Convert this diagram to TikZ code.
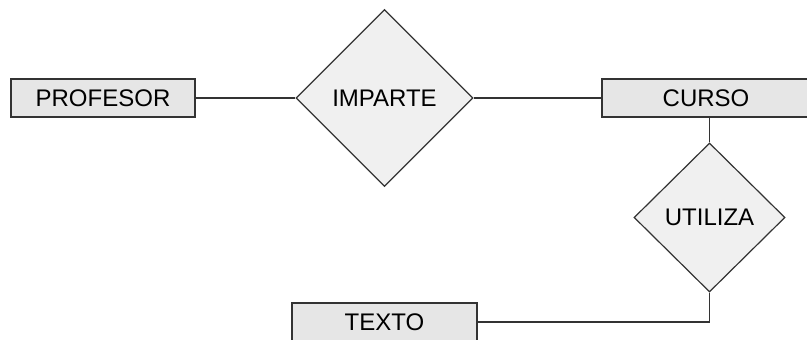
\documentclass[tikz,border=0pt]{standalone}
\usepackage{fontspec}
\setmainfont{Liberation Sans}
\usepackage{xcolor}
\usepackage{tikz}
\usetikzlibrary{shapes.geometric}
\definecolor{linea}{HTML}{333333}
\definecolor{cajagris}{HTML}{E6E6E6}
\definecolor{rombogris}{HTML}{F0F0F0}

\begin{document}
\begin{tikzpicture}[x=0.5pt,y=-0.5pt,font=\fontsize{12}{14}\selectfont,
  entidad/.style={draw=linea,fill=cajagris,line width=0.6pt,minimum height=19pt,inner sep=0pt},
  relacion/.style={diamond,draw=linea,fill=rombogris,line width=0.6pt,inner sep=0pt},
  enlace/.style={draw=linea,line width=0.6pt}]
\useasboundingbox (0,0) rectangle (807,340);
\node[entidad,minimum width=92pt] (profesor) at (103,98) {PROFESOR};
\node[relacion,minimum width=88.5pt,minimum height=88.5pt] (imparte) at (384.5,98) {IMPARTE};
\node[entidad,minimum width=104pt] (curso) at (706,98) {CURSO};
\node[relacion,minimum width=75.5pt,minimum height=74.5pt] (utiliza) at (709.5,217.5) {UTILIZA};
\node[entidad,minimum width=92.5pt] (texto) at (384.5,322) {TEXTO};
\draw[enlace] (profesor.east) -- (imparte.west);
\draw[enlace] (imparte.east) -- (curso.west);
\draw[enlace] (utiliza.north) -- (utiliza.north |- curso.south);
\draw[enlace] (utiliza.south) |- (texto.east);
\end{tikzpicture}
\end{document}
